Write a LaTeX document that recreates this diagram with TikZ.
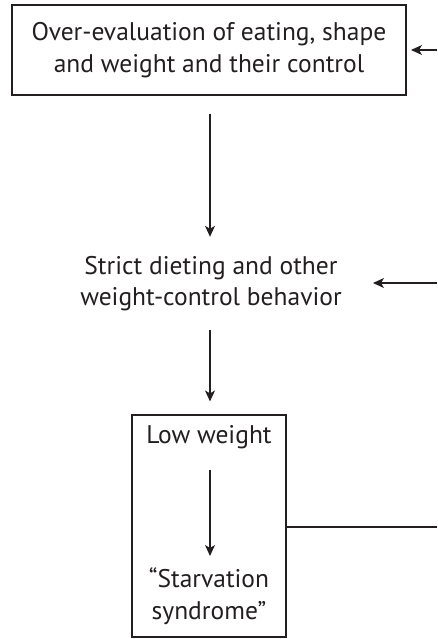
\documentclass[tikz,border=0pt]{standalone}
\usepackage{fontspec}
\setmainfont{PT Sans}
\usetikzlibrary{arrows.meta}
\definecolor{ink}{HTML}{231F20}
\begin{document}
\begin{tikzpicture}[
      x=1pt, y=1pt,
      font=\fontsize{25.5}{31.5}\selectfont,
      text=ink,
      box/.style={draw=ink, line width=1.1pt, inner sep=0pt},
      lbl/.style={align=center, inner sep=0pt},
      arr/.style={draw=ink, line width=1.1pt, -{Stealth[length=11pt,width=10pt,inset=3pt]}},
      link/.style={draw=ink, line width=1.1pt}
    ]
      \useasboundingbox (0,0) rectangle (437,-639);

      \node (Eval) at (209,-50) [box, lbl, minimum width=394pt, minimum height=90pt] {
          Over-evaluation of eating, shape\\and weight and their control
      };
      \node (Diet) at (211,-283.5) [lbl, minimum height=93pt] {
          Strict dieting and other\\weight-control behavior
      };
      \node (LowBox) at (209,-526) [box, minimum width=154pt, minimum height=222pt] {};
      \node (Low) at (209,-437) [lbl] {Low weight};
      \node (Starv) at (209,-596) [lbl] {“Starvation\\syndrome”};

      \coordinate (InEval) at (437,-50);
      \coordinate (InDiet) at (437,-283);
      \coordinate (OutLow) at (437,-527);

      \draw[arr] (InEval) -- (Eval.east -| 411,0);
      \draw[arr] (InDiet) -- (InDiet -| 373,0);
      \draw[arr, shorten <=18pt] (Eval.south -| 210,0) -- (Diet.north -| 210,0);
      \draw[arr, shorten >=13pt] (Diet.south -| 210,0) -- (LowBox.north -| 210,0);
      \draw[arr] (210,-470) -- (210,-556);
      \draw[link] (LowBox.east |- OutLow) -- (OutLow);
    \end{tikzpicture}
\end{document}
